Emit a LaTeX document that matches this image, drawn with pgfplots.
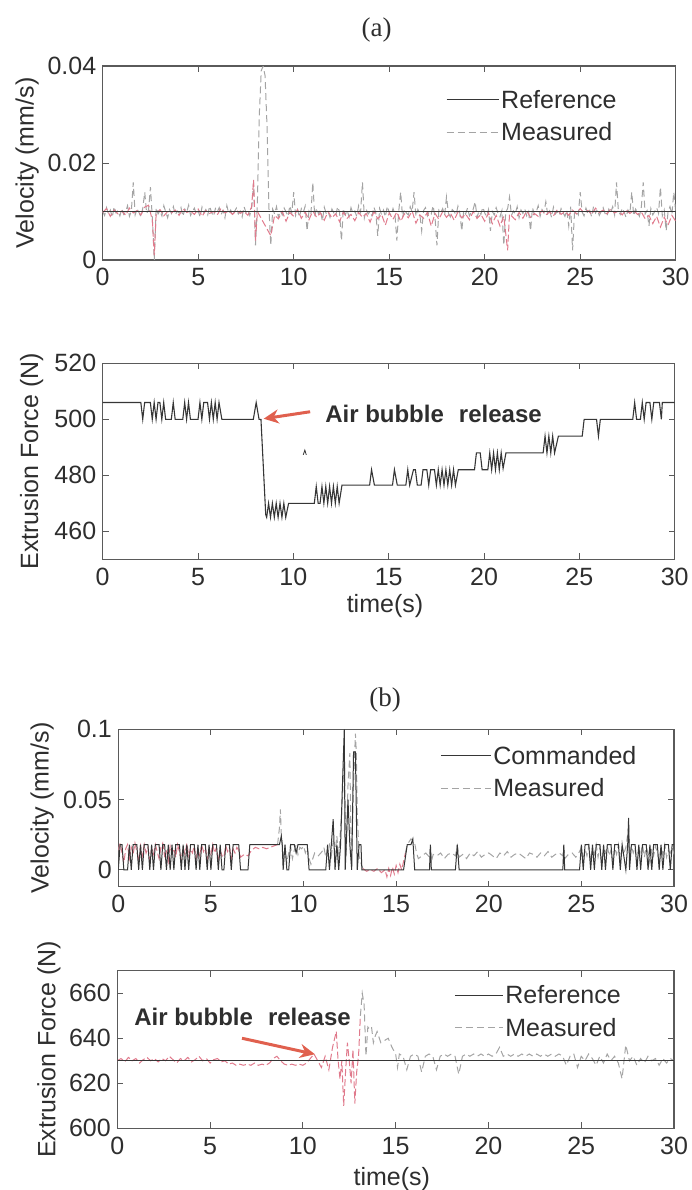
\documentclass[border=0pt]{standalone}
\usepackage{fontspec}
\setmainfont{Liberation Sans}
\newfontfamily\seriffont{Liberation Serif}
\usepackage{pgfplots}
\pgfplotsset{compat=1.18}
\usetikzlibrary{arrows.meta}

\definecolor{refc}{HTML}{363636}
\definecolor{measg}{HTML}{A4A4A4}
\definecolor{measr}{HTML}{E07A8C}
\definecolor{axc}{HTML}{5A5A5A}
\definecolor{arrowc}{HTML}{E0604E}
\definecolor{txt}{HTML}{2E2E2E}

\pgfplotsset{
  myax/.style={
    scale only axis,
    xmin=0, xmax=30,
    xtick={0,5,10,15,20,25,30},
    xticklabels={0,5,10,15,20,25,30},
    scaled y ticks=false,
    tick align=inside,
    major tick length=6pt,
    axis line style={axc, line width=1.1pt},
    tick style={axc, line width=1pt},
    /pgf/number format/assume math mode=true,
    tick label style={font=\fontsize{25}{29}\selectfont, text=txt},
    xticklabel style={yshift=-5pt},
    yticklabel style={xshift=-3pt},
    label style={font=\fontsize{25}{29}\selectfont, text=txt},
    legend cell align=left,
    legend style={draw=none, fill=none, font=\fontsize{25}{29}\selectfont, text=txt,
      row sep=9pt, inner sep=0pt},
    legend image code/.code={\draw[#1] (0pt,0pt) -- (52pt,0pt);},
    refline/.style={refc, line width=1.1pt},
    measline/.style={measg, line width=1pt, dash pattern=on 7pt off 4pt},
    redline/.style={measr, line width=1pt, dash pattern=on 7pt off 3pt},
  }
}

\begin{document}
\begin{tikzpicture}
\path[use as bounding box] (0pt,0pt) rectangle (691pt,-1190pt);

% ---------------- Panel (a) top ----------------
\begin{axis}[myax, at={(102.7pt,-260pt)}, anchor=south west,
  width=573pt, height=194pt,
  ymin=0, ymax=0.04, ytick={0,0.02,0.04}, yticklabels={0,0.02,0.04},
  ylabel={Velocity (mm/s)},
  ylabel style={at={(axis description cs:-0.132,0.5)}, anchor=center},
  title={(a)},
  title style={at={(axis description cs:0.478,1.155)}, anchor=center, font=\seriffont\fontsize{27}{30}\selectfont, text=txt},
  legend style={at={(axis description cs:0.599,0.887)}, anchor=north west}]
\addplot[measline, forget plot] coordinates {
(0,.0100)(.1,.0092)(.2,.0108)(.3,.0095)(.4,.0103)(.5,.0088)(.6,.0110)(.7,.0097)(.8,.0102)(.9,.0091)
(1,.0106)(1.1,.0094)(1.2,.0099)(1.3,.0112)(1.4,.0090)(1.5,.0101)(1.6,.0160)(1.7,.0093)(1.8,.0105)(1.9,.0098)
(2,.0089)(2.1,.0107)(2.2,.0140)(2.3,.0096)(2.4,.0103)(2.5,.0150)(2.6,.0085)(2.7,.0000)(2.8,.0108)(2.9,.0095)
(3,.0102)(3.1,.0091)(3.2,.0112)(3.3,.0099)(3.4,.0087)(3.5,.0104)(3.6,.0096)(3.7,.0110)(3.8,.0093)(3.9,.0101)
(4,.0097)(4.1,.0108)(4.2,.0090)(4.3,.0105)(4.4,.0099)(4.5,.0113)(4.6,.0092)(4.7,.0100)(4.8,.0107)(4.9,.0094)
(5,.0101)(5.1,.0089)(5.2,.0109)(5.3,.0097)(5.4,.0104)(5.5,.0093)(5.6,.0111)(5.7,.0098)(5.8,.0090)(5.9,.0106)
(6,.0099)(6.1,.0108)(6.2,.0094)(6.3,.0102)(6.4,.0087)(6.5,.0112)(6.6,.0096)(6.7,.0103)(6.8,.0091)(6.9,.0100)
(7,.0107)(7.1,.0095)(7.2,.0101)(7.3,.0089)(7.4,.0110)(7.5,.0098)(7.6,.0104)(7.7,.0092)(7.8,.0108)(7.9,.0160)
(8,.0030)(8.1,.0120)(8.2,.0300)(8.3,.0390)(8.4,.0400)(8.5,.0380)(8.6,.0280)(8.7,.0110)(8.8,.0030)(8.9,.0105)
(9,.0095)(9.1,.0110)(9.2,.0088)(9.3,.0102)(9.4,.0093)(9.5,.0107)(9.6,.0099)(9.7,.0090)(9.8,.0112)(9.9,.0097)
(10,.0140)(10.1,.0092)(10.2,.0104)(10.3,.0089)(10.4,.0106)(10.5,.0098)(10.6,.0111)(10.7,.0060)(10.8,.0101)(10.9,.0094)
(11,.0160)(11.1,.0090)(11.2,.0107)(11.3,.0095)(11.4,.0103)(11.5,.0080)(11.6,.0109)(11.7,.0096)(11.8,.0100)(11.9,.0088)
(12,.0105)(12.1,.0097)(12.2,.0091)(12.3,.0110)(12.4,.0099)(12.5,.0040)(12.6,.0106)(12.7,.0093)(12.8,.0102)(12.9,.0089)
(13,.0108)(13.1,.0096)(13.2,.0101)(13.3,.0090)(13.4,.0112)(13.5,.0098)(13.6,.0160)(13.7,.0087)(13.8,.0104)(13.9,.0095)
(14,.0100)(14.1,.0091)(14.2,.0109)(14.3,.0097)(14.4,.0050)(14.5,.0106)(14.6,.0093)(14.7,.0103)(14.8,.0089)(14.9,.0111)
(15,.0098)(15.1,.0092)(15.2,.0106)(15.3,.0095)(15.4,.0040)(15.5,.0101)(15.6,.0140)(15.7,.0088)(15.8,.0105)(15.9,.0097)
(16,.0093)(16.1,.0110)(16.2,.0099)(16.3,.0140)(16.4,.0090)(16.5,.0104)(16.6,.0096)(16.7,.0060)(16.8,.0102)(16.9,.0108)
(17,.0091)(17.1,.0100)(17.2,.0095)(17.3,.0112)(17.4,.0087)(17.5,.0030)(17.6,.0103)(17.7,.0098)(17.8,.0106)(17.9,.0092)
(18,.0130)(18.1,.0097)(18.2,.0089)(18.3,.0104)(18.4,.0100)(18.5,.0093)(18.6,.0111)(18.7,.0096)(18.8,.0060)(18.9,.0102)
(19,.0095)(19.1,.0107)(19.2,.0091)(19.3,.0099)(19.4,.0105)(19.5,.0120)(19.6,.0088)(19.7,.0101)(19.8,.0094)(19.9,.0109)
(20,.0097)(20.1,.0090)(20.2,.0104)(20.3,.0060)(20.4,.0100)(20.5,.0093)(20.6,.0108)(20.7,.0096)(20.8,.0089)(20.9,.0102)
(21,.0030)(21.1,.0099)(21.2,.0106)(21.3,.0130)(21.4,.0092)(21.5,.0101)(21.6,.0095)(21.7,.0110)(21.8,.0087)(21.9,.0103)
(22,.0096)(22.1,.0105)(22.2,.0091)(22.3,.0100)(22.4,.0060)(22.5,.0108)(22.6,.0094)(22.7,.0099)(22.8,.0112)(22.9,.0090)
(23,.0104)(23.1,.0097)(23.2,.0120)(23.3,.0093)(23.4,.0101)(23.5,.0088)(23.6,.0109)(23.7,.0095)(23.8,.0100)(23.9,.0092)
(24,.0106)(24.1,.0098)(24.2,.0090)(24.3,.0103)(24.4,.0070)(24.5,.0110)(24.6,.0020)(24.7,.0096)(24.8,.0101)(24.9,.0093)
(25,.0140)(25.1,.0099)(25.2,.0091)(25.3,.0107)(25.4,.0095)(25.5,.0102)(25.6,.0089)(25.7,.0111)(25.8,.0097)(25.9,.0104)
(26,.0092)(26.1,.0100)(26.2,.0108)(26.3,.0096)(26.4,.0090)(26.5,.0105)(26.6,.0098)(26.7,.0110)(26.8,.0093)(26.9,.0160)
(27,.0101)(27.1,.0094)(27.2,.0107)(27.3,.0099)(27.4,.0088)(27.5,.0103)(27.6,.0096)(27.7,.0140)(27.8,.0091)(27.9,.0105)
(28,.0098)(28.1,.0090)(28.2,.0109)(28.3,.0160)(28.4,.0095)(28.5,.0102)(28.6,.0070)(28.7,.0106)(28.8,.0093)(28.9,.0100)
(29,.0108)(29.1,.0096)(29.2,.0150)(29.3,.0091)(29.4,.0103)(29.5,.0060)(29.6,.0099)(29.7,.0110)(29.8,.0094)(29.9,.0140)(30,.0100)
};
\addplot[redline, forget plot] coordinates {
(0,.0098)(.2,.0106)(.4,.0090)(.6,.0103)(.8,.0095)(1,.0101)(1.2,.0092)(1.4,.0107)(1.6,.0097)(1.8,.0102)
(2,.0093)(2.2,.0109)(2.4,.0113)(2.6,.0082)(2.7,.0010)(2.8,.0096)(3,.0104)(3.2,.0091)(3.4,.0100)(3.6,.0097)
(3.8,.0103)(4,.0092)(4.2,.0106)(4.4,.0098)(4.6,.0101)(4.8,.0094)(5,.0105)(5.2,.0090)(5.4,.0102)(5.6,.0096)
(5.8,.0100)(6,.0093)(6.2,.0107)(6.4,.0097)(6.6,.0101)(6.8,.0094)(7,.0103)(7.2,.0096)(7.4,.0100)(7.6,.0092)
(7.8,.0110)(7.9,.0165)(8,.0040)(8.1,.0100)(8.8,.0050)(9,.0092)(9.2,.0085)(9.4,.0100)(9.6,.0080)(9.8,.0098)
(10,.0090)(10.2,.0104)(10.4,.0086)(10.6,.0099)(10.8,.0083)(11,.0101)(11.2,.0088)(11.4,.0097)(11.6,.0082)(11.8,.0100)
(12,.0087)(12.2,.0095)(12.4,.0079)(12.6,.0099)(12.8,.0086)(13,.0094)(13.2,.0081)(13.4,.0098)(13.6,.0088)(13.8,.0096)
(14,.0078)(14.2,.0100)(14.4,.0085)(14.6,.0094)(14.8,.0072)(15,.0097)(15.2,.0084)(15.4,.0099)(15.6,.0080)(15.8,.0095)
(16,.0087)(16.2,.0101)(16.4,.0076)(16.6,.0093)(16.8,.0086)(17,.0098)(17.2,.0070)(17.4,.0096)(17.6,.0084)(17.8,.0100)
(18,.0088)(18.2,.0097)(18.4,.0082)(18.6,.0099)(18.8,.0087)(19,.0095)(19.2,.0083)(19.4,.0100)(19.6,.0086)(19.8,.0094)
(20,.0080)(20.2,.0097)(20.4,.0075)(20.6,.0092)(20.8,.0070)(21,.0090)(21.2,.0020)(21.3,.0095)(21.6,.0083)(21.8,.0098)
(22,.0086)(22.2,.0101)(22.4,.0088)(22.6,.0096)(22.8,.0090)(23,.0102)(23.2,.0093)(23.4,.0099)(23.6,.0091)(23.8,.0104)
(24,.0094)(24.2,.0100)(24.4,.0092)(24.6,.0103)(24.8,.0095)(25,.0106)(25.2,.0097)(25.4,.0102)(25.6,.0094)(25.8,.0107)
(26,.0098)(26.2,.0103)(26.4,.0095)(26.6,.0105)(26.8,.0097)(27,.0101)(27.2,.0093)(27.4,.0104)(27.6,.0096)(27.8,.0102)
(28,.0094)(28.2,.0099)(28.4,.0085)(28.6,.0092)(28.8,.0075)(29,.0090)(29.2,.0068)(29.4,.0088)(29.6,.0072)(29.8,.0092)(30,.0080)
};
\addplot[refline] coordinates {(0,0.01)(30,0.01)};
\addlegendentry{Reference}
\addlegendimage{measline}
\addlegendentry{Measured}
\end{axis}

% ---------------- Panel (a) bottom ----------------
\begin{axis}[myax, at={(102.7pt,-559.3pt)}, anchor=south west,
  width=572pt, height=196pt,
  ymin=450, ymax=520, ytick={460,480,500,520}, yticklabels={460,480,500,520},
  ylabel={Extrusion Force (N)},
  ylabel style={at={(axis description cs:-0.124,0.5)}, anchor=center},
  xlabel={time(s)},
  xlabel style={at={(axis description cs:0.4935,-0.236)}, anchor=center}]
\addplot[refline] coordinates {
(0,506)(2.0,506)(2.1,500)(2.2,506)(2.5,506)(2.6,500)(2.7,506)(2.8,500)(2.9,506)(3.0,506)(3.1,500)(3.2,506)(3.3,500)
(3.6,500)(3.7,506)(3.8,500)(4.2,500)(4.3,506)(4.4,500)(4.5,506)(4.6,500)(5.0,500)(5.1,506)(5.2,500)(5.3,506)(5.5,506)
(5.6,500)(5.7,506)(5.8,500)(5.9,506)(6.0,500)(6.1,506)(6.25,500)(7.9,500)(8.05,506)(8.2,500)(8.3,500)(8.55,466)
(8.6,465)(8.7,470)(8.8,465)(8.9,470)(9.0,465)(9.1,470)(9.2,465)(9.3,470)(9.4,465)(9.5,470)(9.6,465)(9.75,470)
(11.1,470)(11.2,476)(11.3,470)(11.4,470)(11.5,476)(11.6,470)(11.7,476)(11.8,470)(11.9,476)(12.0,470)(12.1,476)(12.2,470)(12.3,476)(12.4,470)(12.55,476.5)
(14.0,476.5)(14.1,482)(14.25,476.5)(15.2,476.5)(15.3,482)(15.45,476.5)(15.9,476.5)(16.0,482)(16.1,476.5)(16.3,482)(16.4,482)(16.5,476.5)
(16.7,476.5)(16.8,482)(17.0,482)(17.1,476.5)(17.2,482)(17.4,482)(17.5,476.5)(17.6,482)(17.7,476.5)(17.8,482)(17.9,476.5)(18.0,482)
(18.1,476.5)(18.2,482)(18.3,476.5)(18.4,482)(18.5,476.5)(18.65,482)
(19.5,482)(19.6,488)(19.8,488)(19.9,482)(20.2,482)(20.3,488)(20.4,482)(20.5,488)(20.6,482)(20.7,488)(20.8,482)(20.9,488)(21.0,482.5)(21.15,488)
(23.1,488)(23.2,494)(23.3,488)(23.4,494)(23.5,488)(23.6,494)(23.7,488)(23.9,494)
(25.15,494)(25.25,500)(25.9,500)(26.0,494)(26.1,500)
(27.8,500)(27.9,506)(28.0,500)(28.2,500)(28.3,506)(28.4,500)(28.5,506)(28.7,506)(28.8,500)(28.9,506)(29.2,506)(29.3,500)(29.35,506)(30,506)
};
\addplot[refline, line width=0.8pt] coordinates {(10.52,487.3)(10.6,489)(10.68,487.3)};
\node[font=\bfseries\fontsize{24}{28}\selectfont, text=txt, anchor=center] at (axis cs:17.35,501.9) {Air bubble\hspace{0.35em} release};
\draw[arrowc, line width=3pt, -{Stealth[length=15pt,width=14pt]}] (axis cs:10.88,502.7) -- (axis cs:8.44,500.2);
\end{axis}

% ---------------- Panel (b) top ----------------
\begin{axis}[myax, at={(118.3pt,-886.7pt)}, anchor=south west,
  width=555.7pt, height=157.4pt,
  ymin=-0.012, ymax=0.1, ytick={0,0.05,0.1}, yticklabels={0,0.05,0.1},
  ylabel={Velocity (mm/s)},
  ylabel style={at={(axis description cs:-0.137,0.5)}, anchor=center},
  title={(b)},
  title style={at={(axis description cs:0.48,1.15)}, anchor=center, font=\seriffont\fontsize{27}{30}\selectfont, text=txt},
  legend style={at={(axis description cs:0.579,0.908)}, anchor=north west},
  legend image code/.code={\draw[#1] (0pt,0pt) -- (50pt,0pt);}]
\addplot[redline, forget plot] coordinates {
(0,.014)(.1,.019)(.2,.012)(.3,.005)(.4,.015)(.5,.018)(.6,.008)(.7,.016)(.8,.011)(.9,.019)
(1,.013)(1.1,.006)(1.2,.017)(1.3,.010)(1.4,.018)(1.5,.012)(1.6,.016)(1.7,.007)(1.8,.015)(1.9,.011)
(2,.018)(2.1,.013)(2.2,.008)(2.3,.016)(2.4,.019)(2.5,.010)(2.6,.014)(2.7,.006)(2.8,.017)(2.9,.012)
(3,.015)(3.1,.009)(3.2,.018)(3.3,.013)(3.4,.007)(3.5,.016)(3.6,.011)(3.7,.019)(3.8,.010)(3.9,.015)
(4,.012)(4.1,.017)(4.2,.008)(4.3,.014)(4.4,.010)(4.5,.018)(4.6,.013)(4.7,.016)(4.8,.007)(4.9,.015)
(5,.011)(5.1,.018)(5.2,.012)(5.3,.016)(5.4,.006)(5.5,.014)(5.6,.010)(5.7,.009)(5.8,.017)(5.9,.013)
(6,.016)(6.1,.008)(6.2,.015)(6.3,.012)(6.4,.016)(6.5,.014)(6.6,.009)(6.8,.011)(7,.010)(7.2,.014)
(7.4,.016)(7.6,.015)(7.8,.016)(8,.015)(8.2,.016)(8.4,.017)(8.6,.018)
};
\addplot[measline, forget plot] coordinates {
(8.6,.018)(8.7,.030)(8.75,.043)(8.8,.025)(8.9,.010)
(9,.016)(9.1,.005)(9.2,.012)(9.3,.017)(9.4,.008)(9.5,.014)(9.6,.018)(9.7,.011)(9.8,.016)(9.9,.015)
(10,.017)(10.1,.012)(10.2,.016)(10.3,.008)(10.4,.004)(10.5,.008)(10.6,.012)(10.8,.010)(11,.013)(11.1,.016)
(11.2,.009)(11.3,.015)(11.4,.018)(11.5,.010)(11.6,.020)(11.7,.012)(11.8,.024)(11.9,.008)(12,.030)(12.1,.050)
(12.2,.083)(12.25,.040)(12.3,.010)(12.4,.060)(12.5,.083)(12.55,.030)(12.6,.012)(12.7,.060)(12.8,.097)(12.85,.083)
(12.9,.040)(13,.010)(13.1,.005)(13.2,.001)
};
\addplot[redline, forget plot] coordinates {
(13.2,.001)(13.4,-.001)(13.6,.000)(13.8,-.001)(14,.001)(14.2,-.002)(14.4,.000)(14.5,-.005)(14.6,.001)(14.7,-.004)
(14.8,.002)(14.9,-.003)(15,.003)(15.1,-.002)(15.2,.004)(15.3,.000)(15.4,.006)(15.5,.012)
};
\addplot[measline, forget plot] coordinates {
(15.5,.012)(15.6,.018)(15.7,.020)(15.8,.022)(15.9,.021)(16,.019)(16.1,.012)(16.2,.008)(16.4,.010)(16.6,.012)
(16.8,.009)(16.85,.016)(16.9,.006)(17,.011)(17.2,.010)(17.4,.012)(17.6,.008)(17.8,.011)(18,.012)(18.2,.010)
(18.3,.017)(18.4,.009)(18.6,.011)(18.8,.008)(19,.012)(19.2,.010)(19.4,.013)(19.6,.009)(19.8,.011)(20,.012)
(20.2,.010)(20.4,.008)(20.6,.012)(20.8,.010)(21,.013)(21.2,.009)(21.4,.011)(21.6,.012)(21.8,.010)(22,.008)
(22.2,.012)(22.4,.011)(22.6,.009)(22.8,.012)(23,.010)(23.2,.013)(23.4,.009)(23.6,.011)(23.8,.012)(24,.010)
(24.05,.016)(24.1,.008)(24.3,.011)(24.5,.012)(24.7,.009)(24.9,.013)(25,.016)(25.1,.007)(25.2,.015)(25.3,.010)
(25.4,.017)(25.5,.006)(25.6,.014)(25.7,.011)(25.8,.018)(25.9,.009)(26,.016)(26.1,.005)(26.2,.015)(26.3,.012)
(26.4,.017)(26.5,.010)(26.6,.014)(26.7,.006)(26.8,.016)(26.9,.011)(27,.018)(27.1,.008)(27.2,.015)(27.3,.012)
(27.4,.016)(27.5,.025)(27.55,.030)(27.6,.010)(27.7,.017)(27.8,.012)(27.9,.016)(28,.006)(28.1,.015)(28.2,.011)
(28.3,.018)(28.4,.009)(28.5,.016)(28.6,.012)(28.7,.005)(28.8,.015)(28.9,.010)(29,.017)(29.1,.012)(29.2,.007)
(29.3,.016)(29.4,.011)(29.5,.018)(29.6,.009)(29.7,.014)(29.8,.012)(29.9,.016)(30,.011)
};
\addplot[refline, line width=1pt] coordinates {
(0,0)(0.1,0.018)(0.2,0.018)(0.3,0)(0.5,0)(0.6,0.018)(0.7,0)(0.8,0.018)(1.0,0.018)(1.1,0)(1.2,0.018)(1.3,0)(1.4,0.018)
(1.6,0.018)(1.7,0)(1.8,0.018)(1.9,0)(2.0,0.018)(2.2,0.018)(2.3,0)(2.4,0.018)(2.5,0.018)(2.6,0)(2.7,0.018)(2.8,0)(2.9,0.018)
(3.0,0)(3.1,0.018)(3.3,0.018)(3.4,0)(3.5,0.018)(3.6,0)(3.7,0.018)(3.8,0)(3.9,0.018)(4.1,0.018)(4.2,0)(4.3,0.018)(4.4,0)
(4.5,0.018)(4.7,0.018)(4.8,0)(4.9,0.018)(5.0,0)(5.1,0.018)(5.3,0.018)(5.4,0)(5.5,0.018)(5.6,0)(5.7,0)(5.8,0.018)(6.0,0.018)
(6.1,0)(6.2,0.018)(6.5,0.018)(6.6,0)(7.0,0)(7.1,0.018)(8.7,0.018)(8.8,0.024)(8.85,0.018)(8.9,0)(9.0,0.018)(9.1,0)(9.2,0)
(9.3,0.018)(9.5,0.018)(9.6,0.012)(9.7,0.018)(10.2,0.018)(10.3,0)(11.2,0)(11.3,0.018)(11.4,0)(11.5,0.018)(11.6,0.036)(11.7,0)
(11.8,0.018)(11.9,0)(12.0,0.018)(12.1,0.06)(12.2,0.1)(12.25,0)(12.4,0.05)(12.5,0.018)(12.6,0)(12.7,0.084)(12.8,0.084)(12.9,0)
(13.0,0.018)(13.1,0.018)(13.15,0)(15.4,0)(15.6,0.018)(15.8,0.018)(15.9,0.022)(16.0,0)(16.8,0)(16.85,0.018)(16.9,0)(18.2,0)
(18.3,0.018)(18.4,0)(24.0,0)(24.05,0.018)(24.1,0)(24.9,0)(25.0,0.018)(25.1,0)(25.2,0.018)(25.4,0.018)(25.5,0)(25.6,0.018)
(25.7,0)(25.8,0.018)(26.0,0.018)(26.1,0)(26.2,0.018)(26.3,0)(26.4,0.018)(26.6,0.018)(26.7,0)(26.8,0.018)(27.0,0.018)(27.1,0)
(27.2,0.018)(27.4,0)(27.5,0.018)(27.55,0.037)(27.6,0)(27.7,0.018)(27.9,0.018)(28.0,0)(28.1,0.018)(28.2,0)(28.3,0.018)
(28.5,0.018)(28.6,0)(28.7,0.018)(28.8,0)(28.9,0.018)(29.1,0.018)(29.2,0)(29.3,0.018)(29.4,0)(29.5,0.018)(29.7,0.018)
(29.8,0)(29.9,0.018)(30,0.018)
};
\addlegendentry{Commanded}
\addlegendimage{measline}
\addlegendentry{Measured}
\end{axis}

% ---------------- Panel (b) bottom ----------------
\begin{axis}[myax, at={(117.3pt,-1128.3pt)}, anchor=south west,
  width=556.7pt, height=157.6pt,
  ymin=600, ymax=670, ytick={600,620,640,660}, yticklabels={600,620,640,660},
  ylabel={Extrusion Force (N)},
  ylabel style={at={(axis description cs:-0.1227,0.5)}, anchor=center},
  xlabel={time(s)},
  xlabel style={at={(axis description cs:0.493,-0.32)}, anchor=center},
  legend style={at={(axis description cs:0.605,0.92)}, anchor=north west},
  legend image code/.code={\draw[#1] (0pt,0pt) -- (48pt,0pt);}]
\addplot[redline, forget plot] coordinates {
(0,630)(.2,631)(.4,629.5)(.6,631.5)(.8,630)(1,631)(1.2,629)(1.4,630.5)(1.6,631.5)(1.8,630)
(2,631)(2.2,629.5)(2.4,631)(2.6,630)(2.8,632)(3,630.5)(3.2,629)(3.4,631)(3.6,630)(3.8,631.5)
(4,629.5)(4.2,630.5)(4.4,632)(4.6,630)(4.8,631)(5,629)(5.2,630.5)(5.4,631)(5.6,629.5)(5.8,630)
(6,628.5)(6.2,629)(6.4,628)(6.6,628.5)(6.8,628)(7,628.5)(7.2,628)(7.4,629)(7.6,628)(7.8,628.5)
(8,628)(8.2,629)(8.4,631)(8.6,632)(8.8,630)(9,628.5)(9.2,628)(9.4,628.5)(9.6,628)(9.8,628.5)
(10,628)(10.2,629)(10.4,631)(10.6,633)(10.8,630)(11,627)(11.2,632)(11.4,626)(11.6,636)(11.8,643)
(11.9,630)(12,622)(12.1,630)(12.2,610)(12.3,625)(12.4,638)(12.5,630)(12.6,620)(12.7,635)(12.8,611)
(12.9,625)(13,632)(13.1,650)
};
\addplot[measline, forget plot] coordinates {
(13.1,650)(13.2,660)(13.3,655)(13.4,632)(13.5,645)(13.6,644)(13.7,645)(13.8,638)(13.9,641)(14,643)
(14.2,638)(14.4,639)(14.6,640)(14.8,636)(15,633)(15.1,627)(15.2,633)(15.4,632)(15.6,626)(15.8,632)
(16,633)(16.2,632)(16.4,625)(16.6,632)(16.8,633)(17,632)(17.2,626)(17.4,632)(17.6,633)(17.8,632)
(18,633)(18.2,632)(18.4,624)(18.6,632)(18.8,633)(19,632)(19.2,633)(19.4,632)(19.6,633)(19.8,632)
(20,633)(20.2,632)(20.4,633)(20.6,636)(20.8,632)(21,633)(21.2,632)(21.4,633)(21.6,632)(21.8,633)
(22,632)(22.2,633)(22.4,632)(22.6,633)(22.8,632)(23,633)(23.2,632)(23.4,633)(23.6,632)(23.8,633)
(24,632)(24.2,628)(24.4,632)(24.6,633)(24.8,627)(25,632)(25.2,630)(25.4,633)(25.6,631)(25.8,628)
(26,632)(26.2,629)(26.4,633)(26.6,630)(26.8,632)(27,629)(27.2,622)(27.4,637)(27.6,630)(27.8,632)
(28,628)(28.2,631)(28.4,629)(28.6,632)(28.8,630)(29,631)(29.2,628)(29.4,631)(29.6,629)(29.8,631)(30,630)
};
\addplot[refline] coordinates {(0,630)(30,630)};
\addlegendentry{Reference}
\addlegendimage{measline}
\addlegendentry{Measured}
\node[font=\bfseries\fontsize{24}{28}\selectfont, text=txt, anchor=center] at (axis cs:6.75,649.3) {Air bubble\hspace{0.35em} release};
\draw[arrowc, line width=3pt, -{Stealth[length=15pt,width=14pt]}] (axis cs:6.72,640.0) -- (axis cs:10.65,632.9);
\end{axis}
\end{tikzpicture}
\end{document}
